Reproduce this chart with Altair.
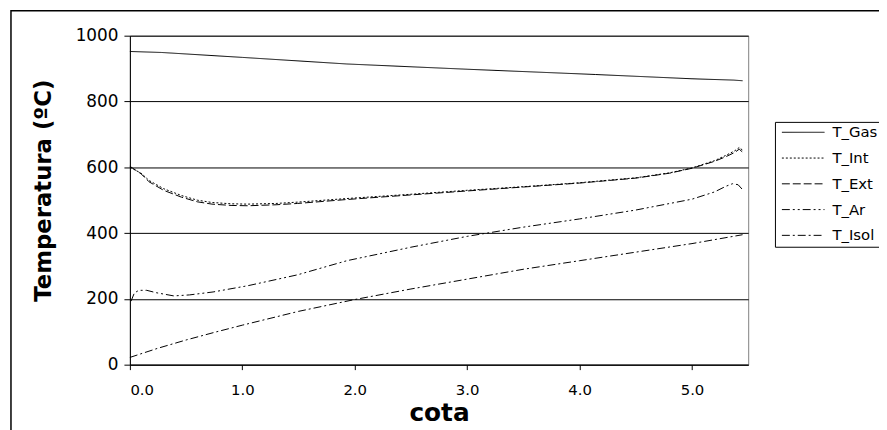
import altair as alt
import pandas as pd

FONT = "DejaVu Sans"

# ---- data ----
series_names = ["T_Gas", "T_Int", "T_Ext", "T_Ar", "T_Isol"]
dash_styles = [[1, 0], [2, 2], [8, 3], [8, 3, 2, 3, 2, 3], [8, 3, 2, 3]]

x_gas = [0.0, 0.28, 1.0, 1.93, 3.0, 4.14, 5.0, 5.37, 5.45]
t_gas = [952, 949, 934, 914, 898, 882, 869, 865, 863]

x_int = [0.0, 0.1, 0.17, 0.3, 0.46, 0.6, 0.73, 0.9, 1.05, 1.3, 1.49, 1.93, 2.5, 3.0,
         3.5, 4.0, 4.5, 4.8, 5.0, 5.2, 5.3, 5.38, 5.42, 5.45]
t_int = [600, 582, 560, 535, 514, 500, 493, 489, 488, 490, 494, 505, 518, 530,
         541, 553, 568, 583, 598, 620, 636, 650, 660, 652]

x_ext = [0.0, 0.1, 0.17, 0.3, 0.46, 0.6, 0.73, 0.9, 1.05, 1.3, 1.49, 1.93, 2.5, 3.0,
         3.5, 4.0, 4.5, 4.8, 5.0, 5.2, 5.3, 5.38, 5.42, 5.45]
t_ext = [603, 580, 556, 530, 509, 495, 488, 484, 483, 486, 490, 502, 516, 528,
         540, 552, 567, 582, 597, 618, 632, 645, 655, 646]

x_ar = [0.01, 0.04, 0.08, 0.15, 0.23, 0.39, 0.53, 0.74, 1.05, 1.49, 1.93, 2.5, 3.0,
        3.5, 4.0, 4.5, 5.0, 5.2, 5.3, 5.36, 5.41, 5.45]
t_ar = [193, 218, 226, 226, 219, 209, 212, 221, 240, 273, 316, 357, 390,
        418, 443, 470, 503, 525, 542, 550, 547, 532]

x_isol = [0.0, 0.25, 0.5, 0.75, 1.0, 1.5, 2.0, 2.5, 3.0, 3.5, 4.0, 4.5, 5.0, 5.45]
t_isol = [22, 50, 75, 98, 120, 162, 198, 230, 260, 290, 316, 342, 368, 395]

x_ticks = [0, 1, 2, 3, 4, 5]
y_ticks = [0, 200, 400, 600, 800, 1000]

rows = []
for name, xs, ts in [("T_Gas", x_gas, t_gas), ("T_Int", x_int, t_int),
                     ("T_Ext", x_ext, t_ext), ("T_Ar", x_ar, t_ar),
                     ("T_Isol", x_isol, t_isol)]:
    for xv, tv in zip(xs, ts):
        rows.append({"series": name, "cota": xv, "temp": tv})
df = pd.DataFrame(rows)

lines = alt.Chart(df).mark_line(color="black", strokeWidth=1).encode(
    x=alt.X("cota:Q",
            scale=alt.Scale(domain=[0, 5.5], nice=False),
            axis=alt.Axis(values=x_ticks, format=".1f", title="cota", grid=False,
                          tickSize=5, labelPadding=13, labelFontSize=15,
                          titleFontSize=25, titleFontWeight="bold",
                          titleY=56, titleBaseline="alphabetic")),
    y=alt.Y("temp:Q",
            scale=alt.Scale(domain=[0, 1000], nice=False),
            axis=alt.Axis(values=y_ticks, format="d", title="Temperatura (ºC)",
                          grid=True, gridColor="black", gridWidth=1,
                          tickSize=6, labelPadding=6, labelFontSize=17,
                          titleFontSize=23, titleFontWeight="bold",
                          titleX=-87, titleY=156, titleAlign="center",
                          titleBaseline="middle")),
    strokeDash=alt.StrokeDash(
        "series:N",
        scale=alt.Scale(domain=series_names, range=dash_styles),
        legend=alt.Legend(title=None, orient="none", legendX=651, legendY=87,
                          symbolType="M-0.7,0H7.9", symbolSize=100,
                          symbolStrokeWidth=1, symbolStrokeColor="black",
                          labelFont=FONT, labelFontSize=15, labelColor="black",
                          labelOffset=40, padding=3, rowPadding=10,
                          strokeColor="black", fillColor="white", labelLimit=300)),
    detail="series:N",
)

border = alt.Chart(pd.DataFrame({"k": [0]})).mark_rect(
    filled=False, stroke="black", strokeWidth=1.5
).encode(
    x=alt.value(-120), x2=alt.value(1000), y=alt.value(-25.25), y2=alt.value(1000)
)

chart = alt.layer(border, lines).properties(
    width=624,
    height=332,
    autosize=alt.AutoSizeParams(type="none"),
    padding={"left": 123, "top": 26, "right": 132, "bottom": 64},
    background="white",
).configure_view(
    stroke="#808080", strokeWidth=1
).configure_axis(
    labelFont=FONT, titleFont=FONT, labelColor="black", titleColor="black",
    domainColor="black", tickColor="black", domainWidth=1, tickWidth=1
)

chart.save("out.html", embed_options={"renderer": "svg", "actions": False})
